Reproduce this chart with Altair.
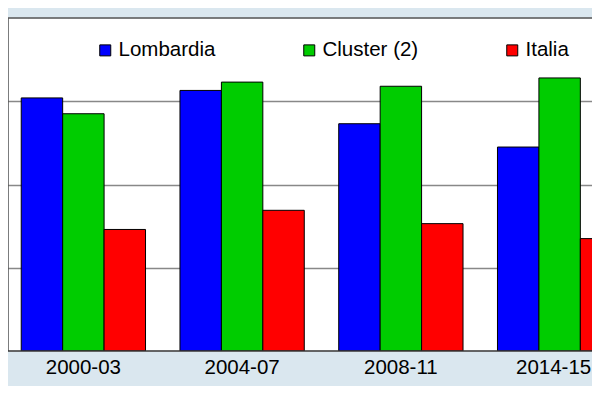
import altair as alt
import pandas as pd

periods = ["2000-03", "2004-07", "2008-11", "2014-15"]
series = ["Lombardia", "Cluster (2)", "Italia"]
lombardia = [3.04, 3.13, 2.73, 2.45]
cluster2 = [2.85, 3.23, 3.18, 3.28]
italia = [1.46, 1.69, 1.53, 1.35]
colors = ["#0000ff", "#00cc00", "#ff0000"]

rows = []
for name, vals in zip(series, [lombardia, cluster2, italia]):
    for p, v in zip(periods, vals):
        rows.append({"period": p, "series": name, "value": v})
df = pd.DataFrame(rows)

W, H = 584, 333

bars = alt.Chart(df).mark_bar(stroke="black", strokeWidth=1, clip=True).encode(
    x=alt.X("period:N", sort=periods,
            scale=alt.Scale(range=[-4, 631], paddingInner=0.217, paddingOuter=0.1085),
            axis=alt.Axis(title=None, labelAngle=0, domain=False, ticks=False,
                          labelFontSize=20.5, labelFont="Liberation Sans",
                          labelColor="black", labelPadding=6,
                          labelOffset={"condition": {"test": "datum.value == '2014-15'",
                                                     "value": -6},
                                       "value": 0})),
    xOffset=alt.XOffset("series:N", sort=series,
                        scale=alt.Scale(paddingInner=0, paddingOuter=0)),
    y=alt.Y("value:Q", scale=alt.Scale(domain=[0, 4], nice=False),
            axis=alt.Axis(title=None, values=[1, 2, 3], labels=False, ticks=False,
                          domain=False, grid=True, gridColor="#888888",
                          gridWidth=1.5)),
    color=alt.Color("series:N", sort=series,
                    scale=alt.Scale(domain=series, range=colors),
                    legend=alt.Legend(orient="none", legendX=87, legendY=22,
                                      direction="horizontal", title=None,
                                      symbolType="square", symbolSize=121,
                                      symbolStrokeColor="black", symbolStrokeWidth=1,
                                      labelFontSize=20.5, labelFont="Liberation Sans",
                                      labelColor="black", labelOffset=3,
                                      columnPadding=83, padding=0)),
)

one = alt.Data(values=[{}])
left = alt.Chart(one).mark_rule(color="#555555", strokeWidth=1.5).encode(
    x=alt.value(0), y=alt.value(0), y2=alt.value(H))
top = alt.Chart(one).mark_rule(color="#555555", strokeWidth=1.5).encode(
    x=alt.value(0), x2=alt.value(W), y=alt.value(0))
bottom = alt.Chart(one).mark_rule(color="#333333", strokeWidth=1.5).encode(
    x=alt.value(0), x2=alt.value(W), y=alt.value(H))

chart = alt.layer(bars, left, top, bottom).properties(
    width=W, height=H,
    autosize=alt.AutoSizeParams(type="none"),
    padding={"left": 0, "top": 10, "right": 0, "bottom": 35},
    background="#dae7ef",
).configure_view(fill="white", stroke="transparent")

chart.save("out.html", embed_options={"renderer": "svg", "actions": False})
